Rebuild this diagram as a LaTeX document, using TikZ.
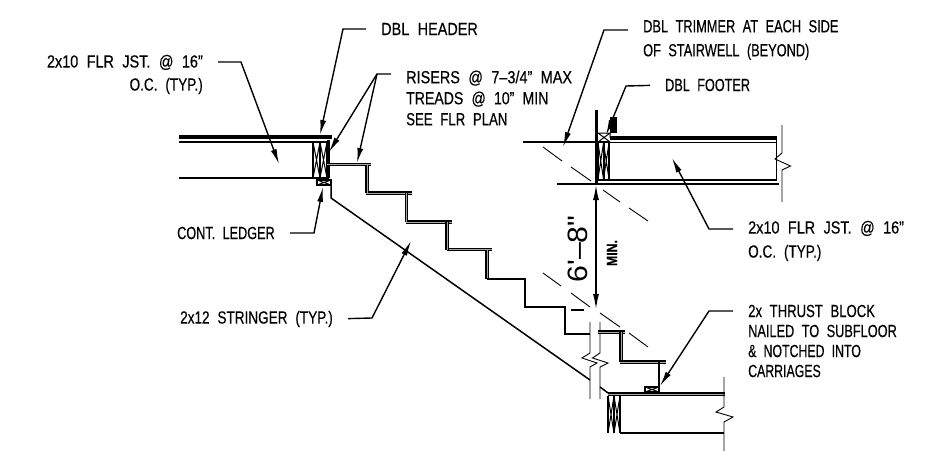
\documentclass[tikz,border=0pt]{standalone}
\usepackage{fontspec}
\setmainfont{Liberation Sans}[FakeStretch=0.82,WordSpace=2.1,FakeBold=0.35]
\newfontfamily\dimfont{Liberation Sans}[FakeStretch=1.08]
\newcommand{\squeeze}[1]{\addfontfeatures{FakeStretch=#1}}
\usetikzlibrary{arrows.meta}
\tikzset{
    note/.style={inner sep=0pt, align=left, font=\fontsize{17.6}{#1}\selectfont},
    note/.default=22,
    leader/.style={line width=1.4pt, shorten <=15pt, -{Latex[length=15pt,width=6pt]}},
    thin line/.style={line width=1.5pt},
    heavy/.style={line width=3.8pt},
    tread/.style={line width=1.5pt, double=gray!70, double distance=.8pt},
    cut/.style={line width=.9pt},
    dimline/.style={line width=1.3pt, {Latex[length=15pt,width=6pt]}-{Latex[length=15pt,width=6pt]}}
}
\newcommand{\woodbox}[4]{
    \draw[line width=1pt] (#1,#2) -- (#1+#3,#2+#4) (#1+#3,#2) -- (#1,#2+#4);
    \draw[line width=1pt] (#1+#3,#2) -- (#1+#3+#3,#2+#4) (#1+#3+#3,#2) -- (#1+#3,#2+#4);
    \draw[thin line] (#1,#2) -- (#1,#2+#4);
    \draw[line width=2pt] (#1+#3,#2) -- (#1+#3,#2+#4);
    \draw[thin line] (#1+#3+#3,#2) -- (#1+#3+#3,#2+#4);
}
\begin{document}
\begin{tikzpicture}[x=1pt, y=-1pt]
        \useasboundingbox (0,0) rectangle (934,463);

        \node[note=23, anchor=east] (jstleft) at (203,74.5) {\hfill 2x10 FLR JST. @ 16"\\\hfill \squeeze{.77}O.C. (TYP.)};
        \node[note, anchor=west] (header) at (381,29) {DBL HEADER};
        \node[note=21, anchor=west] (risers) at (406,98) {RISERS @ 7--3/4" MAX\\\squeeze{.8}TREADS @ 10" MIN\\\squeeze{.75}SEE FLR PLAN};
        \node[note=24, anchor=west] (trimmer) at (643,40) {\squeeze{.727}DBL TRIMMER AT EACH SIDE\\\squeeze{.725}OF STAIRWELL (BEYOND)};
        \node[note, anchor=west] (footer) at (665,85) {\squeeze{.72}DBL FOOTER};
        \node[note, anchor=west] (ledger) at (177,233) {\squeeze{.72}CONT. LEDGER};
        \node[note, anchor=west] (stringer) at (180,319) {\squeeze{.77}2x12 STRINGER (TYP.)};
        \node[note=24, anchor=west] (jstright) at (748,241) {2x10 FLR JST. @ 16"\\\squeeze{.77}O.C. (TYP.)};
        \node[note=20, anchor=west] (thrust) at (748,341) {\squeeze{.745}2x THRUST BLOCK\\\squeeze{.725}NAILED TO SUBFLOOR\\\squeeze{.7}\& NOTCHED INTO\\\squeeze{.7}CARRIAGES};
        \node[inner sep=0pt, rotate=90, font=\dimfont\fontsize{28}{30}\selectfont] (height) at (578,249) {6'–8"};
        \node[inner sep=0pt, rotate=90, font=\bfseries\fontsize{15}{17}\selectfont] (minimum) at (612,253) {MIN.};

        \draw[heavy] (179,137) -- (332,137);
        \draw[thin line] (179,142) -- (329,142);
        \draw[line width=1.8pt] (179,178) -- (329,178);
        \woodbox{313}{142}{7}{36}
        \draw[line width=2.4pt] (328.5,140) -- (328.5,178);
        \draw[thin line] (317,180) rectangle (331,185);
        \draw[line width=1pt] (317,180) -- (331,185) (331,180) -- (317,185);
        \draw[thin line] (331,185) -- (331,198) -- (590,380);

        \foreach \xa/\xb/\ya in {327/371/164.5, 366/412/193, 406/452/222, 447/492/249.5}
            \draw[tread] (\xa,\ya) -- (\xb,\ya);
        \foreach \xa/\ya/\yb in {367/165/193, 406.5/193/222, 447/222/249.5, 487/249.5/279}
            \draw[tread] (\xa,\ya) -- (\xa,\yb);
        \draw[thin line] (487,279) -- (525,279) -- (525,307) -- (565,307) -- (565,334) -- (590,334);

        \draw[cut] (590,322) -- (590,353) -- (582,358) -- (597,363) -- (590,367) -- (590,399);
        \draw[cut] (600,322) -- (600,353) -- (592.5,358) -- (608,363) -- (600,367) -- (600,399);
        \draw[thin line] (600,387) -- (608,393);

        \draw[tread] (598,332) -- (625,332);
        \draw[tread] (621,332) -- (621,362);
        \draw[tread] (620,362) -- (666,362);
        \draw[thin line] (659,362) -- (659,387);
        \draw[thin line] (645,387) rectangle (659,392);
        \draw[line width=1pt] (645,387) -- (659,392) (659,387) -- (645,392);

        \draw[tread] (608,394) -- (725,394);
        \woodbox{608}{396}{6}{37}
        \draw[thin line] (620,433) -- (724,433);
        \draw[cut] (724,377) -- (724,407) -- (716,412) -- (733,417) -- (724,422) -- (724,451);

        \draw[heavy] (610,138) -- (777,138);
        \draw[thin line] (523,142) -- (610,142);
        \draw[thin line] (610,142.5) -- (776,142.5);
        \draw[line width=3.5pt] (596.5,110) -- (596.5,184);
        \draw[line width=2.4pt] (598,180) -- (777,180);
        \draw[line width=2.8pt] (557,184) -- (779,184);
        \woodbox{598}{143}{5.5}{36}
        \draw[thin line] (776.5,138) -- (776.5,180);
        \draw[line width=1pt] (598,133) -- (610,133) -- (610,138) (598,133) -- (610,142) (610,133) -- (598,142);
        \foreach \ya in {118,120,...,132}
            \draw[line width=1.5pt] (610,\ya) -- (617,\ya);
        \draw[cut] (782,125) -- (782,153) -- (775,159) -- (790.5,166) -- (782,170) -- (782,202);

        \foreach \xa/\ya/\xb/\yb in {543/147/562/161, 571/167/591/181, 603/190/620/202, 629/208/648/221,
                                     543/273/561/286, 571/293/590/307, 600/313/620/327, 629/333/648/347}
            \draw[cut] (\xa,\ya) -- (\xb,\yb);
        \draw[line width=1.6pt] (571,310) -- (584,310);

        \coordinate (dimtop) at (596,185);
        \coordinate (dimbot) at (596,309);
        \draw[dimline] (dimtop) -- (dimbot);

        \coordinate (jstbend) at (241,62);
        \coordinate (jsttip) at (279,164);
        \draw[leader] (jstleft.east |- jstbend) -- (jstbend) -- (jsttip);
        \coordinate (headerbend) at (343,29);
        \coordinate (headertip) at (320,135);
        \draw[leader] (header.west) -- (headerbend) -- (headertip);
        \coordinate (riserbend) at (377,74);
        \coordinate (risertip) at (329,152);
        \coordinate (treadtip) at (357,163);
        \draw[leader] (risers.west |- riserbend) -- (riserbend) -- (risertip);
        \draw[leader, shorten <=0pt] (riserbend) -- (treadtip);
        \coordinate (trimmerbend) at (604,30);
        \coordinate (trimmertip) at (563,147);
        \draw[leader] (trimmer.west |- trimmerbend) -- (trimmerbend) -- (trimmertip);
        \coordinate (footerbend) at (626,86);
        \coordinate (footertip) at (606,135);
        \draw[leader] (footer.west) -- (footerbend) -- (footertip);
        \coordinate (ledgerbend) at (314,233);
        \coordinate (ledgertip) at (323,187);
        \draw[leader] (ledger.east) -- (ledgerbend) -- (ledgertip);
        \coordinate (stringerbend) at (372,318);
        \coordinate (stringertip) at (411,241);
        \draw[leader] (stringer.east) -- (stringerbend) -- (stringertip);
        \coordinate (jstrightbend) at (709,229);
        \coordinate (jstrighttip) at (672,158);
        \draw[leader] (jstright.west |- jstrightbend) -- (jstrightbend) -- (jstrighttip);
        \coordinate (thrustbend) at (709,311);
        \coordinate (thrusttip) at (660,386);
        \draw[leader] (thrust.west |- thrustbend) -- (thrustbend) -- (thrusttip);
    \end{tikzpicture}
\end{document}
